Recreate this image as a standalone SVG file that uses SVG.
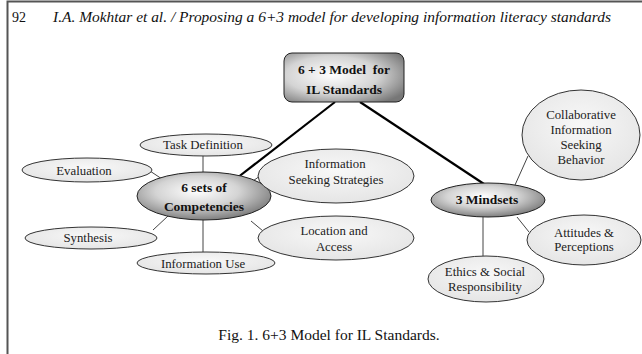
<svg xmlns="http://www.w3.org/2000/svg" width="642" height="354" viewBox="0 0 642 354">
  <style>
    .hdr { font-family: "Liberation Serif", "Times New Roman", serif; font-size: 14px; fill: #111; }
    .cap { font-family: "Liberation Serif", "Times New Roman", serif; font-size: 15.5px; fill: #111; text-anchor: middle; }
    .lbl { font-family: "Liberation Serif", "Times New Roman", serif; font-size: 12.8px; fill: #222; text-anchor: middle; }
    .big { font-family: "Liberation Serif", "Times New Roman", serif; font-size: 13.5px; font-weight: bold; fill: #111; text-anchor: middle; white-space: pre; }
    .leaf { fill: url(#leafFill); stroke: #333; stroke-width: 1; }
    .hub { fill: url(#hubFill); stroke: #222; stroke-width: 1; }
    .thin { stroke: #444; stroke-width: 1; fill: none; }
    .thick { stroke: #000; stroke-width: 2.2; fill: none; }
  </style>
  <defs>
    <radialGradient id="hubFill" cx="45%" cy="40%" r="62%">
      <stop offset="0" stop-color="#ffffff"/>
      <stop offset="0.5" stop-color="#d4d4d4"/>
      <stop offset="1" stop-color="#7a7a7a"/>
    </radialGradient>
    <radialGradient id="boxFill" cx="40%" cy="45%" r="70%">
      <stop offset="0" stop-color="#ffffff"/>
      <stop offset="0.55" stop-color="#d4d4d4"/>
      <stop offset="1" stop-color="#777777"/>
    </radialGradient>
    <radialGradient id="leafFill" cx="50%" cy="40%" r="70%">
      <stop offset="0" stop-color="#f8f8f8"/>
      <stop offset="1" stop-color="#e2e2e2"/>
    </radialGradient>
  </defs>

  <rect width="642" height="354" fill="#ffffff"/>

  <!-- page frame -->
  <path d="M7.5 354 V1.5 H642" fill="none" stroke="#555" stroke-width="2"/>

  <!-- running header -->
  <text class="hdr" x="12" y="22">92</text>
  <text class="hdr" x="53" y="22" font-style="italic" textLength="558" lengthAdjust="spacingAndGlyphs">I.A. Mokhtar et al. / Proposing a 6+3 model for developing information literacy standards</text>

  <!-- connectors -->
  <g id="connectors">
    <line class="thick" x1="335" y1="102" x2="237" y2="178"/>
    <line class="thick" x1="360" y1="102" x2="484" y2="184"/>
    <line class="thin" x1="203" y1="156" x2="203" y2="172"/>
    <line class="thin" x1="150" y1="171" x2="165" y2="181"/>
    <line class="thin" x1="153" y1="230" x2="168" y2="216"/>
    <line class="thin" x1="203" y1="220" x2="203" y2="252"/>
    <line class="thin" x1="250" y1="183" x2="260" y2="176"/>
    <line class="thin" x1="251" y1="221" x2="263" y2="231"/>
    <line class="thin" x1="515" y1="185" x2="528" y2="156"/>
    <line class="thin" x1="517" y1="217" x2="529" y2="232"/>
    <line class="thin" x1="483" y1="217" x2="483" y2="256"/>
  </g>

  <!-- root box -->
  <g id="root">
    <rect x="284" y="53" width="120" height="49" rx="8" fill="url(#boxFill)" stroke="#222" stroke-width="1"/>
    <text class="big" x="344" y="74">6 + 3 Model  for</text>
    <text class="big" x="344" y="94">IL Standards</text>
  </g>

  <!-- competencies hub and leaves -->
  <g id="competencies">
    <ellipse class="hub" cx="204" cy="196" rx="67" ry="24"/>
    <text class="big" x="204" y="192">6 sets of</text>
    <text class="big" x="204" y="211">Competencies</text>
  </g>
  <g id="task-definition">
    <ellipse class="leaf" cx="206" cy="145" rx="66" ry="11"/>
    <text class="lbl" x="203" y="149">Task Definition</text>
  </g>
  <g id="evaluation">
    <ellipse class="leaf" cx="87" cy="170" rx="65" ry="12"/>
    <text class="lbl" x="84" y="175">Evaluation</text>
  </g>
  <g id="synthesis">
    <ellipse class="leaf" cx="91" cy="238" rx="66" ry="11"/>
    <text class="lbl" x="88" y="242">Synthesis</text>
  </g>
  <g id="information-use">
    <ellipse class="leaf" cx="206" cy="263" rx="69" ry="11"/>
    <text class="lbl" x="203" y="268">Information Use</text>
  </g>
  <g id="seeking-strategies">
    <ellipse class="leaf" cx="336" cy="176" rx="78" ry="27"/>
    <text class="lbl" x="335" y="168">Information</text>
    <text class="lbl" x="336" y="184">Seeking Strategies</text>
  </g>
  <g id="location-access">
    <ellipse class="leaf" cx="336" cy="238" rx="78" ry="22"/>
    <text class="lbl" x="334" y="235">Location and</text>
    <text class="lbl" x="334" y="251">Access</text>
  </g>

  <!-- mindsets hub and leaves -->
  <g id="mindsets">
    <ellipse class="hub" cx="488" cy="200" rx="57" ry="17"/>
    <text class="big" x="487" y="204">3 Mindsets</text>
  </g>
  <g id="collaborative">
    <ellipse class="leaf" cx="581" cy="135" rx="59" ry="45"/>
    <text class="lbl" x="581" y="119">Collaborative</text>
    <text class="lbl" x="581" y="134">Information</text>
    <text class="lbl" x="581" y="149">Seeking</text>
    <text class="lbl" x="581" y="164">Behavior</text>
  </g>
  <g id="attitudes">
    <ellipse class="leaf" cx="584" cy="240" rx="57" ry="25"/>
    <text class="lbl" x="584" y="237">Attitudes &amp;</text>
    <text class="lbl" x="584" y="251">Perceptions</text>
  </g>
  <g id="ethics">
    <ellipse class="leaf" cx="486" cy="279" rx="58" ry="23"/>
    <text class="lbl" x="485" y="276">Ethics &amp; Social</text>
    <text class="lbl" x="485" y="291">Responsibility</text>
  </g>

  <!-- caption -->
  <text class="cap" x="329" y="340">Fig. 1. 6+3 Model for IL Standards.</text>
</svg>
